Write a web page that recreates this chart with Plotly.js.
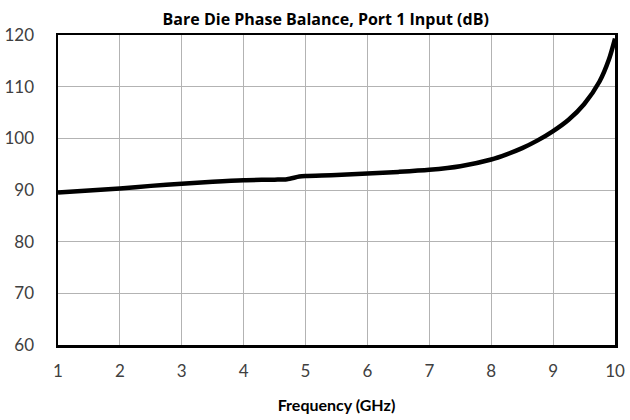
<!DOCTYPE html>
<html>
<head>
<meta charset="utf-8">
<script src="https://cdn.plot.ly/plotly-3.0.1.min.js"></script>
<style>html,body{margin:0;padding:0;background:#fff;}#chart{width:630px;height:420px;}</style>
</head>
<body>
<div id="chart"></div>
<script>
const freqGHz = [1,1.5,2,2.5,3,3.5,4,4.5,4.7,4.9,5,5.5,6,6.5,7,7.5,8,8.25,8.5,8.75,9,9.25,9.5,9.75,9.9,10];
const phaseBalance = [89.5,89.9,90.3,90.8,91.2,91.6,91.9,92.0,92.1,92.6,92.7,92.9,93.2,93.5,93.9,94.6,95.9,96.9,98.1,99.6,101.4,103.6,106.6,111.0,115.2,119.3];
const xTicks = [1,2,3,4,5,6,7,8,9,10];
const yTicks = [60,70,80,90,100,110,120];
const chartTitle = 'Bare Die Phase Balance, Port 1 Input (dB)';
const xTitle = 'Frequency (GHz)';

const trace = {
  x: freqGHz, y: phaseBalance, type: 'scatter', mode: 'lines',
  line: {color: '#000000', width: 4.5, shape: 'spline', smoothing: 0.8},
  hoverinfo: 'skip'
};
const fontFam = 'Lato, "Open Sans", sans-serif';
const layout = {
  width: 630, height: 420,
  margin: {l: 58, r: 15, t: 35, b: 75},
  paper_bgcolor: '#ffffff', plot_bgcolor: '#ffffff',
  showlegend: false,
  title: {text: '<b>' + chartTitle + '</b>', font: {family: '"Open Sans", sans-serif', size: 16, color: '#000'}, x: 0.517, xanchor: 'center', y: 0.953, yanchor: 'middle'},
  xaxis: {
    range: [1, 10], tickvals: xTicks, ticktext: xTicks.map(String),
    showgrid: true, gridcolor: '#b3b3b3', gridwidth: 1, zeroline: false,
    showline: true, linecolor: '#000', linewidth: 2.5, mirror: true,
    ticks: '', ticklabelstandoff: 9,
    tickfont: {family: fontFam, size: 17, color: '#404040'},
    title: {text: '<b>' + xTitle + '</b>', font: {family: fontFam, size: 16, color: '#000'}, standoff: 20}
  },
  yaxis: {
    range: [60, 120], tickvals: yTicks, ticktext: yTicks.map(String),
    showgrid: true, gridcolor: '#b3b3b3', gridwidth: 1, zeroline: false,
    showline: true, linecolor: '#000', linewidth: 2.5, mirror: true,
    ticks: '', ticklabelstandoff: 18,
    tickfont: {family: fontFam, size: 17, color: '#404040'}
  }
};
Plotly.newPlot('chart', [trace], layout, {displayModeBar: false, staticPlot: true});
</script>
</body>
</html>
